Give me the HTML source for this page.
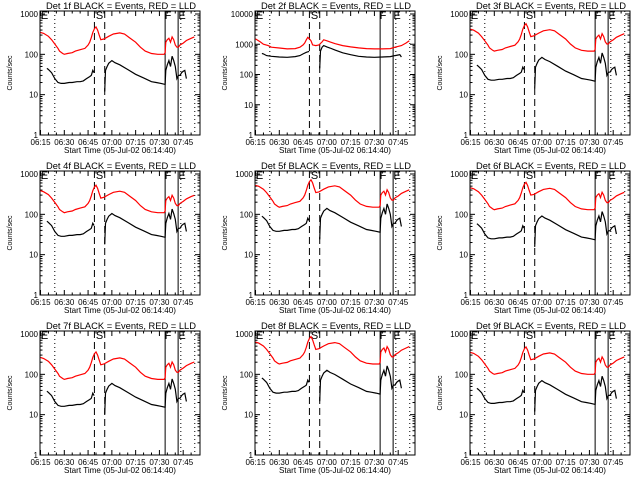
<!DOCTYPE html>
<html><head><meta charset="utf-8">
<style>
html,body{margin:0;padding:0;background:#fff;width:640px;height:480px;overflow:hidden}
svg{display:block}
text{font-family:"Liberation Sans",sans-serif;fill:#000}
</style></head>
<body>
<svg id="chart" width="640" height="480" viewBox="0 0 640 480"></svg>
<script>
// Time in minutes after 06:15
const tickLabels = ["06:15","06:30","06:45","07:00","07:15","07:30","07:45"];
const tickMinutes = [0,15,30,45,60,75,90];
const detNames = ["Det 1f","Det 2f","Det 3f","Det 4f","Det 5f","Det 6f","Det 7f","Det 8f","Det 9f"];
// Reference rate profile (read from Det 1f)
const redT = [0,2,5,7,9,11,12,14,15,17,20,22,25,28,30,31,32,33,34,35,36,37,38,40,43,46,50,53,56,60,63,66,70,74,78,78.6,79,80,81,82,83,84,85,86,87,88,90,92,95,97];
const redV = [350,330,280,230,180,140,120,105,100,105,110,120,130,140,170,200,260,350,430,480,400,300,230,240,280,320,340,320,260,200,150,120,105,100,100,110,200,230,250,200,270,230,170,150,150,170,190,220,250,270];
const blackT1 = [4,5,7,9,11,13,15,18,20,23,25,27,29,31,32,33,33.8];
const blackV1 = [45,42,35,25,20,19,19,20,20,21,21,22,25,28,30,40,35];
const blackT2 = [40.5,41,42,43,45,47,50,55,60,65,70,73,76,78.6,79,80,81,82,83,84,85,86,87,88,89,90,91,92];
const blackV2 = [12,40,50,60,70,62,55,42,32,26,21,20,19,18,40,55,70,50,90,70,50,25,30,30,35,38,40,25];
// Det 2f own profile
const red2T = [0,3,5,8,10,15,20,25,28,30,31,32,33,34,35,36,38,40,42,43,45,47,50,55,60,65,70,75,80,85,88,92,95,97];
const red2V = [1500,1200,1000,900,800,750,700,720,800,950,1100,1400,1700,1500,1300,950,900,950,1200,1400,1300,1200,1050,900,820,760,720,700,700,720,800,900,1100,1300];
const black2T1 = [4,5,7,10,15,20,25,28,30,32,33.8];
const black2V1 = [500,480,420,400,380,370,390,420,480,540,580];
const black2T2 = [40.5,41,42,43,45,47,50,55,60,65,70,75,80,85,88,90,91,92];
const black2V2 = [160,600,800,900,820,750,650,520,450,400,380,370,380,390,420,440,450,380];
// Per-detector level factors relative to reference profile
const redLevel = [1,1,1.2,1.1,1.5,1.3,0.75,1.8,1];
const blackLevel = [1,1,1.2,1.5,2,1.3,0.85,1.8,1];
// Event markers (minutes)
const dottedLines = [9,88.5,97.3];
const dashedLines = [34,40.5];
const solidLines = [78.6,86.8];

const NS="http://www.w3.org/2000/svg";
const svg=document.getElementById('chart');
function mk(tag,attrs,parent){const e=document.createElementNS(NS,tag);for(const k in attrs)e.setAttribute(k,attrs[k]);(parent||svg).appendChild(e);return e;}

for(let p=0;p<9;p++){
  const col=p%3,row=Math.floor(p/3);
  const ox=col*215, oy=row*160;
  const L=ox+40,R=ox+200,T=oy+11,B=oy+135;
  const tmin=-0.33,tmax=100.6;
  const ymax = p===1 ? 4 : 3;
  const topLog = ymax + 3/((B-14-oy)/ymax);
  const xs=t=>L+(t-tmin)/(tmax-tmin)*(R-L);
  const ys=v=>B-(Math.log10(v))/topLog*(B-T);
  const g=mk('g',{});
  
  
  const title=mk('text',{x:ox+46,y:oy+9,'font-size':'9',textLength:'150',lengthAdjust:'spacingAndGlyphs'},g);
  title.textContent=detNames[p]+" BLACK = Events, RED = LLD";
  
  
  const fr=mk('rect',{x:L,y:T,width:R-L,height:B-T,fill:'none',stroke:'#000','stroke-width':1},g);
  
  
  for(let d=0;d<=ymax;d++){
    const y=ys(Math.pow(10,d));
    mk('line',{x1:L,y1:y,x2:L+5,y2:y,stroke:'#000'},g);
    mk('line',{x1:R,y1:y,x2:R-5,y2:y,stroke:'#000'},g);
    const tl=mk('text',{x:L-2,y:y+3,'font-size':'8','text-anchor':'end'},g);
    tl.textContent=String(Math.pow(10,d));
    
    
    for(let m=2;m<10;m++){
      const v=m*Math.pow(10,d); if(Math.log10(v)>topLog)break;
      const ym=ys(v);
      mk('line',{x1:L,y1:ym,x2:L+2.5,y2:ym,stroke:'#000'},g);
      mk('line',{x1:R,y1:ym,x2:R-2.5,y2:ym,stroke:'#000'},g);
    }
  }
  const yt=mk('text',{x:ox+12,y:(T+B)/2,'font-size':'7','text-anchor':'middle',transform:`rotate(-90 ${ox+12} ${(T+B)/2})`},g);
  yt.textContent="Counts/sec";
  
  
  tickMinutes.forEach((m,i)=>{
    const x=xs(m);
    mk('line',{x1:x,y1:B,x2:x,y2:B-5,stroke:'#000'},g);
    mk('line',{x1:x,y1:T,x2:x,y2:T+5,stroke:'#000'},g);
    const tl=mk('text',{x:x,y:B+10,'font-size':'8','text-anchor':'middle'},g);
    tl.textContent=tickLabels[i];
    
    
  });
  for(let m=5;m<100;m+=5){ if(m%15===0)continue; const x=xs(m);
    mk('line',{x1:x,y1:B,x2:x,y2:B-2.5,stroke:'#000'},g);
    mk('line',{x1:x,y1:T,x2:x,y2:T+2.5,stroke:'#000'},g);}
  const xt=mk('text',{x:ox+64,y:oy+153,'font-size':'8.5',textLength:'112',lengthAdjust:'spacingAndGlyphs'},g);
  xt.textContent="Start Time (05-Jul-02 06:14:40)";
  
  
  dottedLines.forEach(m=>{const l=mk('line',{x1:xs(m),y1:T,x2:xs(m),y2:B,stroke:'#000','stroke-dasharray':'1,3'},g);
    });
  dashedLines.forEach(m=>{const l=mk('line',{x1:xs(m),y1:T,x2:xs(m),y2:B,stroke:'#000','stroke-dasharray':'7,4'},g);
    });
  solidLines.forEach(m=>{const l=mk('line',{x1:xs(m),y1:T,x2:xs(m),y2:B,stroke:'#000'},g);
    });
  const lbls=[["E",0],["S",(dashedLines[0]+dashedLines[1])/2],["F",solidLines[0]+1.8],["E",solidLines[1]+2.5]];
  lbls.forEach(([s,m])=>{const t=mk('text',{x:xs(m)+(s==="E"&&m===0?4:0),y:T+8,'font-size':'11','text-anchor':'middle'},g);
    t.textContent=s;});
  function line(tArr,vArr,k,color,name){
    const pts=tArr.map((t,i)=>xs(t).toFixed(1)+","+ys(vArr[i]*k).toFixed(1)).join(" ");
    const pl=mk('polyline',{points:pts,fill:'none',stroke:color,'stroke-width':1.2},g);
    
    
  }
  if(p===1){
    line(red2T,red2V,1,'#ff0000','lld-series');
    line(black2T1,black2V1,1,'#000','events-series-a');
    line(black2T2,black2V2,1,'#000','events-series-b');
  } else {
    line(redT,redV,redLevel[p],'#ff0000','lld-series');
    line(blackT1,blackV1,blackLevel[p],'#000','events-series-a');
    line(blackT2,blackV2,blackLevel[p],'#000','events-series-b');
  }
}
</script>
</body></html>
